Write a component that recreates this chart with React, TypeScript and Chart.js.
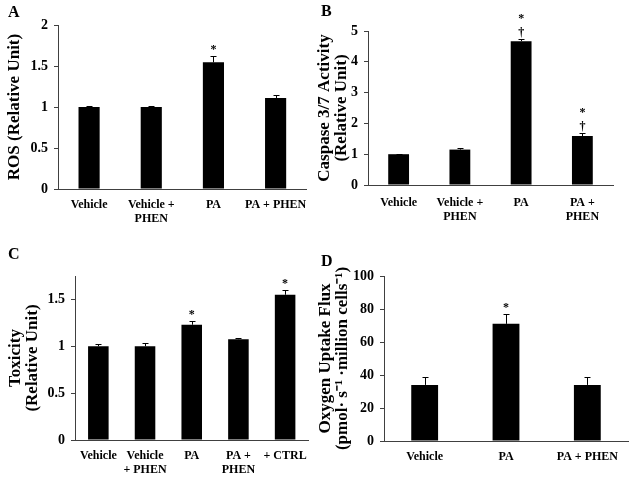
import React, { useEffect, useRef } from "react";
import { Chart, registerables } from "chart.js";

Chart.register(...registerables);

const FONT = "'Liberation Serif', 'Times New Roman', serif";
const AXIS = "#404040";

// Panel A
const catsA: (string | string[])[] = ["Vehicle", ["Vehicle +", "PHEN"], "PA", "PA + PHEN"];
const valsA = [1.0, 1.0, 1.545, 1.11];
const errsA = [0.01, 0.01, 0.075, 0.035];
const marksA: string[][] = [[], [], ["*"], []];
const ticksA = { max: 2, step: 0.5 };

// Panel B
const catsB: (string | string[])[] = ["Vehicle", ["Vehicle +", "PHEN"], "PA", ["PA +", "PHEN"]];
const valsB = [1.0, 1.15, 4.67, 1.59];
const errsB = [0.02, 0.05, 0.06, 0.09];
const marksB: string[][] = [[], [], ["†", "*"], ["†", "*"]];
const ticksB = { max: 5, step: 1 };

// Panel C
const catsC: (string | string[])[] = ["Vehicle", ["Vehicle", "+ PHEN"], "PA", ["PA +", "PHEN"], "+ CTRL"];
const valsC = [1.0, 1.0, 1.23, 1.075, 1.55];
const errsC = [0.02, 0.03, 0.04, 0.01, 0.05];
const marksC: string[][] = [[], [], ["*"], [], ["*"]];
const ticksC = { max: 1.75, step: 0.5 };

// Panel D
const catsD: (string | string[])[] = ["Vehicle", "PA", "PA + PHEN"];
const valsD = [34, 71, 34];
const errsD = [5, 6, 4.5];
const marksD: string[][] = [[], ["*"], []];
const ticksD = { max: 100, step: 20 };

type PanelProps = {
  x: number;
  y: number;
  letter: string;
  letterPos: [number, number];
  cats: (string | string[])[];
  vals: number[];
  errs: number[];
  marks: string[][];
  yMax: number;
  yStep: number;
  title: string | string[];
  titlePad: number;
  area: { L: number; T: number; R: number; B: number };
  barPct: number;
  xPad: number;
};

function Panel(p: PanelProps) {
  const ref = useRef<HTMLCanvasElement>(null);
  useEffect(() => {
    if (!ref.current) return;
    const W = 316;
    const H = 240;
    const errPlugin = {
      id: "errbars",
      afterDatasetsDraw(chart: any) {
        const ctx = chart.ctx as CanvasRenderingContext2D;
        const meta = chart.getDatasetMeta(0);
        const ys = chart.scales.y;
        ctx.save();
        ctx.strokeStyle = "#000";
        ctx.fillStyle = "#000";
        ctx.lineWidth = 1;
        meta.data.forEach((bar: any, i: number) => {
          const bx = Math.round(bar.x) + 0.5;
          const y0 = ys.getPixelForValue(p.vals[i]);
          const y1 = Math.round(ys.getPixelForValue(p.vals[i] + p.errs[i])) + 0.5;
          ctx.beginPath();
          ctx.moveTo(bx, y0);
          ctx.lineTo(bx, y1);
          ctx.moveTo(bx - 3, y1);
          ctx.lineTo(bx + 3, y1);
          ctx.stroke();
          let yy = y1 - 4;
          ctx.font = `bold 12px ${FONT}`;
          ctx.textAlign = "center";
          ctx.textBaseline = "alphabetic";
          p.marks[i].forEach((m) => {
            ctx.fillText(m, bar.x, yy);
            yy -= 14;
          });
        });
        ctx.font = `bold 16px ${FONT}`;
        ctx.textAlign = "left";
        ctx.textBaseline = "middle";
        ctx.fillText(p.letter, p.letterPos[0], p.letterPos[1]);
        ctx.restore();
      },
    };
    const chart = new Chart(ref.current, {
      type: "bar",
      data: {
        labels: p.cats as any,
        datasets: [
          {
            data: p.vals,
            backgroundColor: "#000",
            borderWidth: 0,
            barPercentage: p.barPct,
            categoryPercentage: 1,
          },
        ],
      },
      options: {
        responsive: false,
        animation: false,
        layout: { padding: { left: 0, top: p.area.T, right: W - p.area.R, bottom: 0 } },
        plugins: { legend: { display: false }, tooltip: { enabled: false } },
        scales: {
          x: {
            grid: { display: false, drawTicks: false },
            border: { display: true, color: AXIS, width: 1 },
            ticks: {
              color: "#000",
              font: { family: FONT, size: 12, weight: "bold", lineHeight: 1.15 },
              padding: p.xPad,
              maxRotation: 0,
              autoSkip: false,
            },
            afterFit: (s: any) => {
              s.height = H - p.area.B;
            },
          },
          y: {
            min: 0,
            max: p.yMax,
            bounds: "data",
            grid: { drawOnChartArea: false, drawTicks: true, tickLength: 4, color: AXIS },
            border: { display: true, color: AXIS, width: 1 },
            ticks: {
              stepSize: p.yStep,
              includeBounds: false,
              color: "#000",
              font: { family: FONT, size: 14, weight: "bold" },
              padding: 6,
              callback: (v: any) => String(parseFloat(Number(v).toFixed(2))),
            },
            title: {
              display: true,
              text: p.title as any,
              color: "#000",
              font: { family: FONT, size: 17, weight: "bold", lineHeight: 1 },
              padding: { top: p.titlePad, bottom: 0 },
            },
            afterFit: (s: any) => {
              s.width = p.area.L;
            },
          },
        },
      } as any,
      plugins: [errPlugin],
    });
    return () => chart.destroy();
  }, []);
  return (
    <div style={{ position: "absolute", left: p.x, top: p.y, width: 316, height: 240 }}>
      <canvas ref={ref} width={316} height={240} style={{ width: 316, height: 240, display: "block" }} />
    </div>
  );
}

export default function App() {
  return (
    <div style={{ position: "absolute", left: 0, top: 0, width: 632, height: 480, background: "#fff" }}>
      <Panel
        x={0}
        y={0}
        letter="A"
        letterPos={[8, 13]}
        cats={catsA}
        vals={valsA}
        errs={errsA}
        marks={marksA}
        yMax={ticksA.max}
        yStep={ticksA.step}
        title="ROS (Relative Unit)"
        titlePad={6}
        area={{ L: 58, T: 25, R: 310, B: 189 }}
        barPct={0.34}
        xPad={9}
      />
      <Panel
        x={316}
        y={0}
        letter="B"
        letterPos={[5, 12]}
        cats={catsB}
        vals={valsB}
        errs={errsB}
        marks={marksB}
        yMax={ticksB.max}
        yStep={ticksB.step}
        title={["Caspase 3/7 Activity", "(Relative Unit)"]}
        titlePad={0}
        area={{ L: 52, T: 31, R: 297, B: 185 }}
        barPct={0.34}
        xPad={11}
      />
      <Panel
        x={0}
        y={240}
        letter="C"
        letterPos={[8, 15]}
        cats={catsC}
        vals={valsC}
        errs={errsC}
        marks={marksC}
        yMax={ticksC.max}
        yStep={ticksC.step}
        title={["Toxicity", "(Relative Unit)"]}
        titlePad={7}
        area={{ L: 75, T: 36, R: 313, B: 200 }}
        barPct={0.44}
        xPad={9}
      />
      <Panel
        x={316}
        y={240}
        letter="D"
        letterPos={[5, 22]}
        cats={catsD}
        vals={valsD}
        errs={errsD}
        marks={marksD}
        yMax={ticksD.max}
        yStep={ticksD.step}
        title={["Oxygen Uptake Flux", "(pmol· s⁻¹ ·million cells⁻¹)"]}
        titlePad={1}
        area={{ L: 68, T: 36, R: 312, B: 201 }}
        barPct={0.33}
        xPad={9}
      />
    </div>
  );
}
